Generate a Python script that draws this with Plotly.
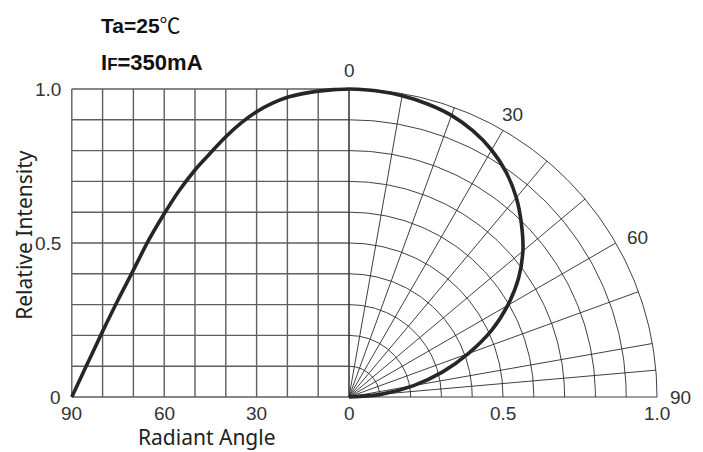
import numpy as np
import plotly.graph_objects as go

# ---------------- data ----------------
angles_deg = [0, 5, 10, 15, 20, 25, 30, 35, 40, 45, 50, 55, 60, 65, 70, 75, 80, 85, 90]
rel_intensity = [1.0, 0.998, 0.993, 0.985, 0.973, 0.953, 0.926, 0.89, 0.845, 0.792,
                 0.737, 0.672, 0.595, 0.51, 0.412, 0.315, 0.213, 0.107, 0.0]

cart_grid_angles = [0, 10, 20, 30, 40, 50, 60, 70, 80, 90]
cart_grid_levels = [0, 0.1, 0.2, 0.3, 0.4, 0.5, 0.6, 0.7, 0.8, 0.9, 1.0]
polar_circles = [0.1, 0.2, 0.3, 0.4, 0.5, 0.6, 0.7, 0.8, 0.9, 1.0]
polar_spokes = [0, 10, 20, 30, 40, 50, 60, 70, 80, 85, 90]

y_tick_vals = [0, 0.5, 1.0]
y_tick_text = ["0", "0.5", "1.0"]
angle_tick_vals = [90, 60, 30, 0]
angle_tick_text = ["90", "60", "30", "0"]
radius_tick_vals = [0.5, 1.0]
radius_tick_text = ["0.5", "1.0"]
polar_label_angles = [0, 30, 60, 90]
polar_label_text = ["0", "30", "60", "90"]

note_lines = ["Ta=25<span style='font-family:Noto Sans CJK KR;font-weight:normal'>℃</span>",
              "I<span style='font-size:17px'>F</span>=350mA"]
note_sizes = [21, 22]
x_title = "Radiant Angle"
y_title = "Relative Intensity"

# ---------------- helpers ----------------
def ang_to_x(a):
    """left (cartesian) half: angle in degrees -> x coordinate (10 deg = 0.1 unit)"""
    return -np.asarray(a, dtype=float) / 100.0

def polar_xy(r, a):
    t = np.radians(np.asarray(a, dtype=float))
    r = np.asarray(r, dtype=float)
    return r * np.sin(t), r * np.cos(t)

fig = go.Figure()

LEFT_GRID = dict(color="#5e5e5e", width=1.4)
POLAR_GRID = dict(color="#2a2a2a", width=0.9)

# left cartesian grid
for a in cart_grid_angles:
    fig.add_trace(go.Scatter(x=[ang_to_x(a)] * 2, y=[0, 1.0], mode="lines",
                             line=LEFT_GRID, hoverinfo="skip", showlegend=False))
for v in cart_grid_levels:
    fig.add_trace(go.Scatter(x=[ang_to_x(90), ang_to_x(0)], y=[v, v], mode="lines",
                             line=LEFT_GRID, hoverinfo="skip", showlegend=False))

# polar quarter grid
arc = np.linspace(0, 90, 121)
for r in polar_circles:
    px, py = polar_xy(np.full_like(arc, r), arc)
    fig.add_trace(go.Scatter(x=px, y=py, mode="lines", line=POLAR_GRID,
                             hoverinfo="skip", showlegend=False))
for a in polar_spokes:
    px, py = polar_xy([0, 1.0], [a, a])
    fig.add_trace(go.Scatter(x=px, y=py, mode="lines", line=POLAR_GRID,
                             hoverinfo="skip", showlegend=False))

# curves
CURVE = dict(color="#23272b", width=3.6, shape="spline", smoothing=1.0)
fig.add_trace(go.Scatter(x=ang_to_x(angles_deg), y=rel_intensity, mode="lines",
                         line=CURVE, showlegend=False))
cx, cy = polar_xy(rel_intensity, angles_deg)
fig.add_trace(go.Scatter(x=cx, y=cy, mode="lines", line=CURVE, showlegend=False))

# ---------------- text ----------------
TICK_FONT = dict(family="Liberation Sans, Arial, sans-serif", size=19, color="#333333")
ann = []
for v, t in zip(y_tick_vals, y_tick_text):
    ann.append(dict(x=ang_to_x(90), y=v, text=t, xanchor="right", yanchor="middle",
                    xshift=-9, showarrow=False, font=TICK_FONT))
for v, t in zip(angle_tick_vals, angle_tick_text):
    ann.append(dict(x=ang_to_x(v), y=0, text=t, xanchor="center", yanchor="middle",
                    yshift=-16, showarrow=False, font=TICK_FONT))
for v, t in zip(radius_tick_vals, radius_tick_text):
    ann.append(dict(x=v, y=0, text=t, xanchor="center", yanchor="middle",
                    yshift=-16, showarrow=False, font=TICK_FONT))
for a, t in zip(polar_label_angles, polar_label_text):
    if a < 45:
        lx, ly = polar_xy(1.06, a)
        anchor = "center"
    else:
        lx, ly = polar_xy(1.035, a)
        anchor = "left"
    ann.append(dict(x=float(lx), y=float(ly), text=t, xanchor=anchor, yanchor="middle",
                    showarrow=False, font=TICK_FONT))

TITLE_FONT = dict(family="Noto Sans, DejaVu Sans, sans-serif", size=21, color="#222222")
ann.append(dict(x=ang_to_x(46), y=0, yref="paper", text=x_title, xanchor="center",
                yanchor="bottom", borderpad=0, showarrow=False, font=TITLE_FONT))
ann.append(dict(x=ang_to_x(90), y=0.5, text=y_title, textangle=-90, xanchor="center",
                yanchor="middle", xshift=-48, yshift=8, borderpad=0, showarrow=False,
                font=TITLE_FONT))

for i, (t, s) in enumerate(zip(note_lines, note_sizes)):
    ann.append(dict(x=ang_to_x(90), y=1.0, text="<b>" + t + "</b>", xanchor="left",
                    yanchor="middle", xshift=27, yshift=65 - 38 * i, showarrow=False,
                    font=dict(family="Liberation Sans, Arial, sans-serif", size=s,
                              color="#111111")))

# ---------------- layout ----------------
# the page body keeps its default 8px margin, so the figure is 8px smaller
W, H = 695, 444
UNIT = 308.0           # pixels per intensity unit
OX, OY = 341.0, 389.0  # pixel position of the polar origin inside the figure

fig.update_layout(
    width=W, height=H,
    margin=dict(l=0, r=0, t=0, b=0),
    paper_bgcolor="white", plot_bgcolor="white",
    xaxis=dict(range=[-OX / UNIT, (W - OX) / UNIT], visible=False, fixedrange=True),
    yaxis=dict(range=[-(H - OY) / UNIT, OY / UNIT], visible=False, fixedrange=True),
    annotations=ann,
    showlegend=False,
)

fig.write_html("out.html")
